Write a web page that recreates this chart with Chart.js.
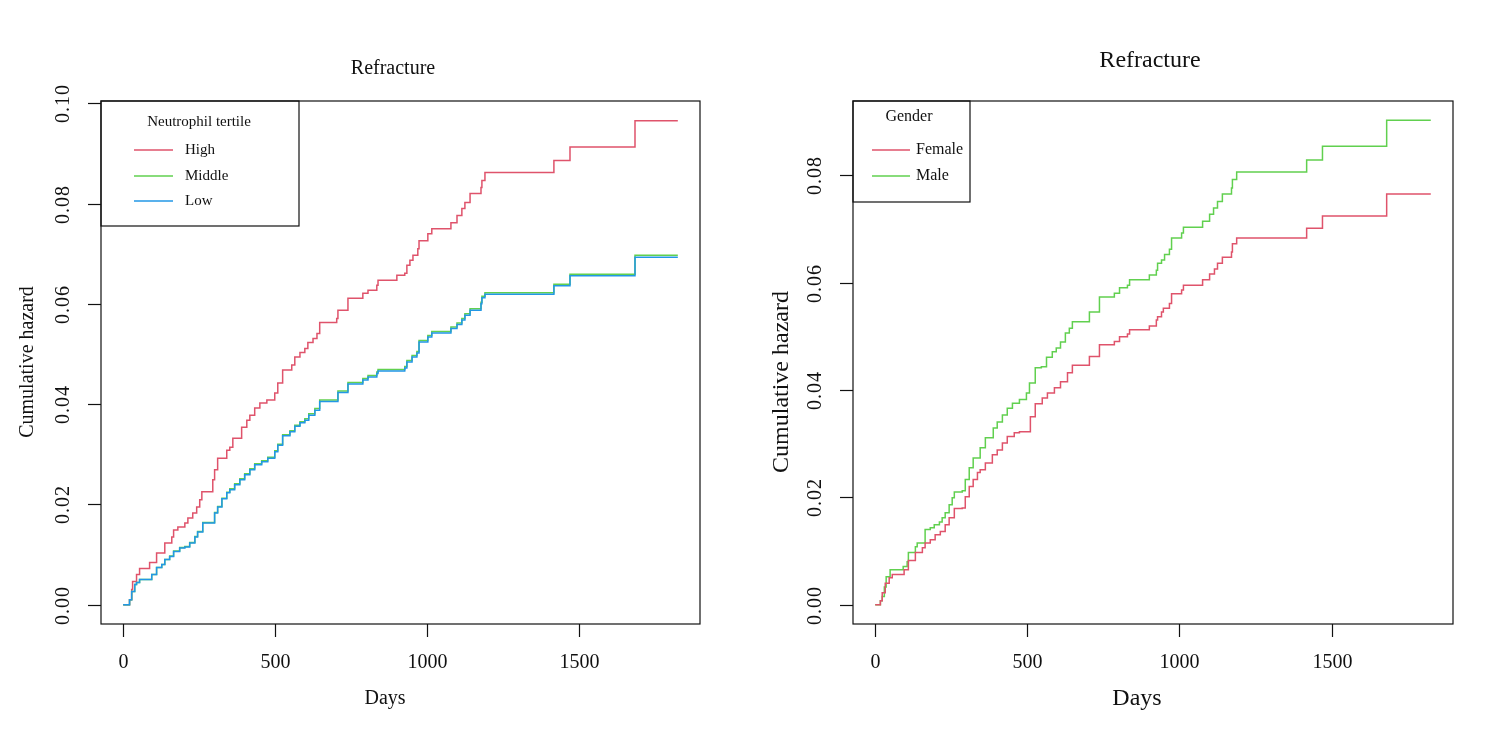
<!DOCTYPE html>
<html>
<head>
<meta charset="utf-8">
<script src="https://cdn.jsdelivr.net/npm/chart.js@4/dist/chart.umd.min.js"></script>
<style>
  body { margin: 0; background: #fff; width: 1505px; height: 736px; overflow: hidden; position: relative; }
  .panel { position: absolute; top: 0; height: 736px; }
</style>
</head>
<body>
<div class="panel" style="left:0;width:752px"><canvas id="leftChart" width="752" height="736"></canvas></div>
<div class="panel" style="left:752px;width:753px"><canvas id="rightChart" width="753" height="736"></canvas></div>
<script>
// Tick labels
const xTicks = [0, 500, 1000, 1500];
const leftYTicks = [0, 0.02, 0.04, 0.06, 0.08, 0.10];
const rightYTicks = [0, 0.02, 0.04, 0.06, 0.08];

// Neutrophil tertile - High
const highDays = [0, 21, 28, 31, 44, 54, 87, 110, 137, 160, 166, 180, 203, 213, 229, 242, 252, 259, 295, 301,
  311, 341, 351, 361, 390, 407, 417, 433, 450, 473, 499, 509, 525, 555, 565, 582, 598, 608, 625, 638,
  647, 703, 707, 740, 789, 806, 835, 839, 901, 927, 934, 944, 954, 970, 974, 1003, 1016, 1079, 1099, 1115,
  1125, 1142, 1178, 1181, 1191, 1418, 1471, 1685, 1826];
const highHaz = [0, 0.001, 0.003, 0.0046, 0.006, 0.0072, 0.0084, 0.0103, 0.0123, 0.0135, 0.0149, 0.0155, 0.0163, 0.0173, 0.0183, 0.0195, 0.0209, 0.0225, 0.0249, 0.0269,
  0.0292, 0.0308, 0.0314, 0.0332, 0.0354, 0.0368, 0.0378, 0.0392, 0.0402, 0.0408, 0.0422, 0.0442, 0.0468, 0.0478, 0.0494, 0.0503, 0.0511, 0.0523, 0.0531, 0.0541,
  0.0563, 0.0571, 0.0587, 0.0611, 0.0621, 0.0627, 0.0637, 0.0647, 0.0657, 0.0661, 0.0677, 0.0687, 0.0697, 0.071, 0.0726, 0.074, 0.075, 0.0762, 0.0776, 0.079,
  0.0802, 0.082, 0.0832, 0.0846, 0.0862, 0.0886, 0.0913, 0.0965, 0.0965];

// Middle and Low share event days
const tertileDays = [0, 21, 28, 38, 44, 54, 94, 110, 127, 137, 153, 166, 186, 203, 219, 236, 245, 262, 301, 311,
  325, 341, 351, 367, 384, 400, 417, 433, 456, 476, 499, 509, 525, 549, 565, 582, 598, 611, 631, 647,
  707, 740, 789, 806, 835, 839, 927, 934, 951, 967, 974, 1003, 1016, 1079, 1099, 1115, 1125, 1142, 1178, 1181,
  1191, 1418, 1471, 1685, 1826];
const middleHaz = [0, 0.001, 0.0026, 0.004, 0.0044, 0.005, 0.006, 0.0074, 0.008, 0.009, 0.0097, 0.0107, 0.0114, 0.0116, 0.0124, 0.0136, 0.0146, 0.0164, 0.0184, 0.0196,
  0.0212, 0.0224, 0.0231, 0.0241, 0.0251, 0.0261, 0.0271, 0.0281, 0.0287, 0.0294, 0.0307, 0.032, 0.0339, 0.0347, 0.0358, 0.0365, 0.0371, 0.0381, 0.0391, 0.0408,
  0.0426, 0.0443, 0.0451, 0.0457, 0.0464, 0.0469, 0.0475, 0.0487, 0.0497, 0.0505, 0.0527, 0.0537, 0.0545, 0.0554, 0.0562, 0.0571, 0.058, 0.059, 0.0603, 0.0615,
  0.0622, 0.0639, 0.0659, 0.0697, 0.0697];
const lowHaz = [0, 0.001, 0.0026, 0.004, 0.0044, 0.005, 0.006, 0.0074, 0.008, 0.009, 0.0096, 0.0106, 0.0113, 0.0115, 0.0123, 0.0135, 0.0145, 0.0163, 0.0183, 0.0195,
  0.0211, 0.0223, 0.0229, 0.0239, 0.0249, 0.0259, 0.0269, 0.0279, 0.0285, 0.0292, 0.0305, 0.0318, 0.0337, 0.0345, 0.0356, 0.0363, 0.0368, 0.0378, 0.0388, 0.0405,
  0.0423, 0.044, 0.0448, 0.0454, 0.0461, 0.0466, 0.0472, 0.0484, 0.0494, 0.0502, 0.0524, 0.0534, 0.0542, 0.0551, 0.0559, 0.0568, 0.0577, 0.0587, 0.06, 0.0612,
  0.0619, 0.0636, 0.0656, 0.0693, 0.0693];

// Gender - Female
const femaleDays = [0, 17, 23, 33, 46, 56, 95, 109, 132, 155, 164, 181, 197, 214, 230, 243, 260, 286, 296, 309,
  322, 336, 345, 362, 385, 401, 418, 434, 457, 474, 510, 526, 549, 566, 589, 609, 632, 648, 704, 737,
  786, 803, 829, 836, 901, 924, 928, 941, 947, 967, 974, 1007, 1013, 1076, 1099, 1115, 1125, 1141, 1171, 1174,
  1188, 1418, 1470, 1681, 1826];
const femaleHaz = [0, 0.0007, 0.0022, 0.004, 0.005, 0.0056, 0.0065, 0.0082, 0.0097, 0.0106, 0.0115, 0.0121, 0.013, 0.0136, 0.0149, 0.0162, 0.0179, 0.018, 0.0201, 0.022,
  0.0233, 0.0246, 0.0251, 0.0264, 0.0279, 0.0288, 0.0301, 0.0313, 0.032, 0.0322, 0.035, 0.0374, 0.0385, 0.0394, 0.0404, 0.0415, 0.0432, 0.0446, 0.0462, 0.0484,
  0.049, 0.0499, 0.0504, 0.0512, 0.0519, 0.053, 0.0536, 0.0545, 0.0552, 0.0561, 0.0579, 0.0586, 0.0595, 0.0605, 0.0616, 0.0625, 0.0636, 0.0647, 0.0657, 0.0672,
  0.0683, 0.0701, 0.0724, 0.0765, 0.0765];

// Gender - Male
const maleDays = [0, 17, 23, 30, 36, 49, 92, 105, 109, 132, 138, 164, 181, 194, 211, 220, 230, 243, 253, 260,
  286, 296, 309, 322, 345, 362, 388, 401, 418, 434, 451, 474, 497, 507, 526, 546, 563, 582, 595, 609,
  625, 638, 648, 704, 737, 786, 803, 829, 836, 901, 924, 928, 941, 951, 967, 974, 1007, 1013, 1076, 1099,
  1112, 1125, 1141, 1171, 1174, 1188, 1418, 1470, 1681, 1826];
const maleHaz = [0, 0.0007, 0.0015, 0.0033, 0.0052, 0.0065, 0.0071, 0.008, 0.0097, 0.0108, 0.0115, 0.014, 0.0143, 0.0149, 0.0154, 0.0162, 0.0171, 0.0186, 0.0199, 0.021,
  0.0212, 0.0233, 0.0255, 0.0273, 0.0292, 0.0311, 0.0329, 0.034, 0.0353, 0.0366, 0.0375, 0.0382, 0.0394, 0.0413, 0.0441, 0.0443, 0.0461, 0.0471, 0.0478, 0.0489,
  0.0506, 0.0515, 0.0527, 0.0545, 0.0573, 0.058, 0.059, 0.0595, 0.0605, 0.0614, 0.0623, 0.0636, 0.0642, 0.0652, 0.0662, 0.0683, 0.0692, 0.0703, 0.0714, 0.0727,
  0.0739, 0.0751, 0.0765, 0.0776, 0.0792, 0.0806, 0.0828, 0.0854, 0.0902, 0.0902];

const RED = '#DF536B', GREEN = '#61D04F', BLUE = '#2297E6';
const SERIF = '"Liberation Serif", "Times New Roman", serif';

function toPoints(days, haz) {
  return days.map((d, i) => ({ x: d, y: haz[i] }));
}

function stepSet(label, days, haz, color, order) {
  return {
    label: label,
    data: toPoints(days, haz),
    borderColor: color,
    borderWidth: 1.5,
    pointRadius: 0,
    stepped: 'before',
    fill: false,
    order: order
  };
}

// R style box, axes, titles and legend
const rFrame = {
  id: 'rFrame',
  afterDraw(chart, args, o) {
    const { ctx, chartArea: a, scales: { x, y } } = chart;
    ctx.save();
    ctx.strokeStyle = '#111';
    ctx.fillStyle = '#111';
    ctx.lineWidth = 1.2;
    ctx.strokeRect(a.left, a.top, a.right - a.left, a.bottom - a.top);

    // x axis ticks
    ctx.font = `${o.tickSize}px ${SERIF}`;
    ctx.textAlign = 'center';
    ctx.textBaseline = 'middle';
    xTicks.forEach(t => {
      const px = Math.round(x.getPixelForValue(t)) + 0.5;
      ctx.beginPath();
      ctx.moveTo(px, a.bottom);
      ctx.lineTo(px, a.bottom + 13);
      ctx.stroke();
      ctx.fillText(String(t), px, a.bottom + 39);
    });

    // y axis ticks, rotated labels
    o.yTicks.forEach(t => {
      const py = Math.round(y.getPixelForValue(t)) + 0.5;
      ctx.beginPath();
      ctx.moveTo(a.left, py);
      ctx.lineTo(a.left - 13, py);
      ctx.stroke();
      ctx.save();
      ctx.translate(a.left - 37, py);
      ctx.rotate(-Math.PI / 2);
      ctx.letterSpacing = '1px';
      ctx.fillText(t.toFixed(2), 0, 0);
      ctx.restore();
    });

    // titles
    ctx.font = `${o.titleSize}px ${SERIF}`;
    ctx.fillText(o.title, o.titlePos[0], o.titlePos[1]);
    ctx.fillText('Days', o.xTitlePos[0], o.xTitlePos[1]);
    ctx.save();
    ctx.translate(o.yTitlePos[0], o.yTitlePos[1]);
    ctx.rotate(-Math.PI / 2);
    ctx.fillText('Cumulative hazard', 0, 0);
    ctx.restore();

    // legend
    const lg = o.legend;
    ctx.lineWidth = 1.2;
    ctx.strokeRect(a.left, a.top, lg.w, lg.h);
    ctx.font = `${lg.size}px ${SERIF}`;
    ctx.fillText(lg.title, a.left + lg.titleX, a.top + lg.titleY);
    ctx.textAlign = 'left';
    lg.labels.forEach((lab, i) => {
      const ly = a.top + lg.rowY[i];
      ctx.strokeStyle = lg.colors[i];
      ctx.lineWidth = 1.5;
      ctx.beginPath();
      ctx.moveTo(a.left + lg.lineX[0], ly);
      ctx.lineTo(a.left + lg.lineX[1], ly);
      ctx.stroke();
      ctx.fillText(lab, a.left + lg.textX, ly);
    });
    ctx.restore();
  }
};

function makeChart(id, datasets, yMin, yMax, frame) {
  return new Chart(document.getElementById(id).getContext('2d'), {
    type: 'line',
    data: { datasets: datasets },
    options: {
      responsive: false,
      animation: false,
      devicePixelRatio: 1,
      layout: { padding: { left: 101, right: 52, top: 101, bottom: 112 } },
      scales: {
        x: { type: 'linear', min: -73, max: 1899, display: false },
        y: { type: 'linear', min: yMin, max: yMax, display: false }
      },
      plugins: {
        legend: { display: false },
        tooltip: { enabled: false },
        rFrame: frame
      }
    },
    plugins: [rFrame]
  });
}

// Left: Neutrophil tertile
makeChart('leftChart', [
  stepSet('High', highDays, highHaz, RED, 2),
  stepSet('Middle', tertileDays, middleHaz, GREEN, 1),
  stepSet('Low', tertileDays, lowHaz, BLUE, 0)
], -0.00386, 0.10046, {
  tickSize: 20, titleSize: 20, yTicks: leftYTicks,
  title: 'Refracture', titlePos: [393, 69], xTitlePos: [385, 699], yTitlePos: [28, 362],
  legend: {
    w: 198, h: 125, size: 15, title: 'Neutrophil tertile', titleX: 98, titleY: 21,
    labels: ['High', 'Middle', 'Low'], colors: [RED, GREEN, BLUE],
    rowY: [49, 75, 100], lineX: [33, 72], textX: 84
  }
});

// Right: Gender
makeChart('rightChart', [
  stepSet('Female', femaleDays, femaleHaz, RED, 0),
  stepSet('Male', maleDays, maleHaz, GREEN, 1)
], -0.003608, 0.093808, {
  tickSize: 20, titleSize: 24, yTicks: rightYTicks,
  title: 'Refracture', titlePos: [398, 61], xTitlePos: [385, 699], yTitlePos: [30, 382],
  legend: {
    w: 117, h: 101, size: 16, title: 'Gender', titleX: 56, titleY: 16,
    labels: ['Female', 'Male'], colors: [RED, GREEN],
    rowY: [49, 75], lineX: [19, 57], textX: 63
  }
});
</script>
</body>
</html>
